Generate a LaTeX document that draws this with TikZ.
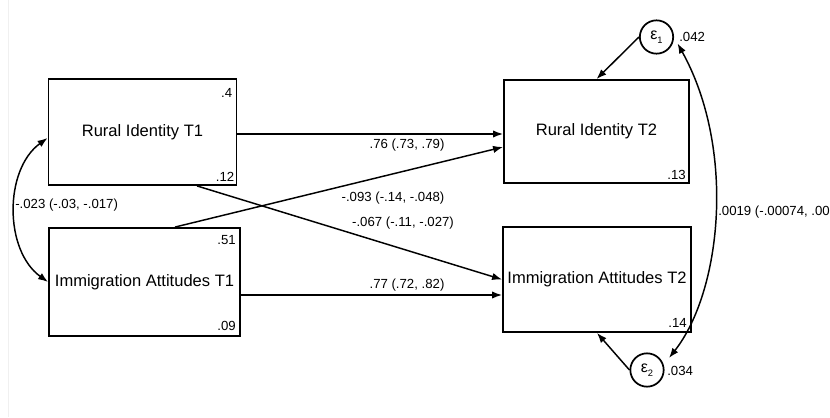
\documentclass[tikz,border=0pt]{standalone}
\usepackage{fontspec}
\setmainfont{Liberation Sans}
\usetikzlibrary{arrows.meta,calc}
\begin{document}
\begin{tikzpicture}[x=0.75pt,y=-0.75pt,
  box/.style={draw=black, line width=1.4pt, rectangle, inner sep=0pt, font=\fontsize{12.4}{14}\selectfont},
  err/.style={draw=black, line width=1.3pt, circle, minimum size=25pt, inner sep=0pt, font=\fontsize{12}{14}\selectfont},
  arr/.style={line width=1.1pt, -{Latex[length=7.5pt,width=5.5pt]}},
  dbl/.style={line width=1.1pt, {Latex[length=7.5pt,width=5.5pt]}-{Latex[length=7.5pt,width=5.5pt]}},
  lbl/.style={inner sep=0pt, font=\fontsize{9.9}{11}\selectfont},
  num/.style={inner sep=0pt, font=\fontsize{9.9}{11}\selectfont}]
\useasboundingbox (0,0) rectangle (830,417);
\fill[white] (0,0) rectangle (830,417);
\draw[black!6, line width=0.75pt] (8.5,0) -- (8.5,417);

% boxes
\node[box, minimum width=141pt, minimum height=79.5pt] (RI1) at (142.5,132) {Rural Identity T1};
\node[box, minimum width=143.25pt, minimum height=81pt] (IA1) at (144.5,282) {Immigration Attitudes T1};
\node[box, minimum width=138.75pt, minimum height=77.25pt] (RI2) at (596.5,131.5) {Rural Identity T2};
\node[box, minimum width=141pt, minimum height=78.75pt] (IA2) at (597,279.5) {Immigration Attitudes T2};

% error terms
\node[err] (e1) at (656.5,37) {ε\raisebox{-0.5ex}{\fontsize{7}{8}\selectfont 1}};
\node[err] (e2) at (647,370) {ε\raisebox{-0.5ex}{\fontsize{7}{8}\selectfont 2}};
\coordinate (c1end) at ($(e1.center)+(-17:16.5pt)$);
\coordinate (c2end) at ($(e2.center)+(28.6:18.8pt)$);

% paths
\draw[arr] ($(RI1.east)+(0,2)$) -- ($(RI2.west)+(0,2.5)$);
\draw[arr] ($(IA1.east)+(0,13)$) -- ($(IA2.west)+(0,15.5)$);
\draw[arr] ($(IA1.north)+(30.5,0)$) -- ($(RI2.west)+(0,15.5)$);
\draw[arr] ($(RI1.south)+(54.5,0)$) -- (IA2.west);
\draw[arr] (e1.west) -- (RI2.north);
\draw[arr] (e2.west) -- (IA2.south);

% covariances
\draw[dbl] ($(RI1.west)+(0,6)$) .. controls (4,169.5) and (4,250.5) .. (IA1.west);
\draw[dbl] (c1end) .. controls (736,148.7) and (721.8,290.8) .. (c2end);

% path labels
\node[lbl] (l1) at (407,145) {.76 (.73, .79)};
\node[lbl] (l2) at (393,198) {-.093 (-.14, -.048)};
\node[lbl] (l3) at (403,223) {-.067 (-.11, -.027)};
\node[lbl] (l4) at (407,285) {.77 (.72, .82)};
\node[lbl, anchor=west] (l5) at (15,205) {-.023 (-.03, -.017)};
\node[lbl, anchor=west] (l6) at (718,212) {.0019 (-.00074, .00};

% variance / intercept numbers
\node[num, anchor=east] (n1) at (232.5,93) {.4};
\node[num, anchor=east] (n2) at (234.5,177) {.12};
\node[num, anchor=east] (n3) at (236,240) {.51};
\node[num, anchor=east] (n4) at (236,326) {.09};
\node[num, anchor=east] (n5) at (686,175) {.13};
\node[num, anchor=east] (n6) at (687,323) {.14};
\node[num, anchor=west] (n7) at (679,37) {.042};
\node[num, anchor=west] (n8) at (667,371) {.034};
\end{tikzpicture}
\end{document}
